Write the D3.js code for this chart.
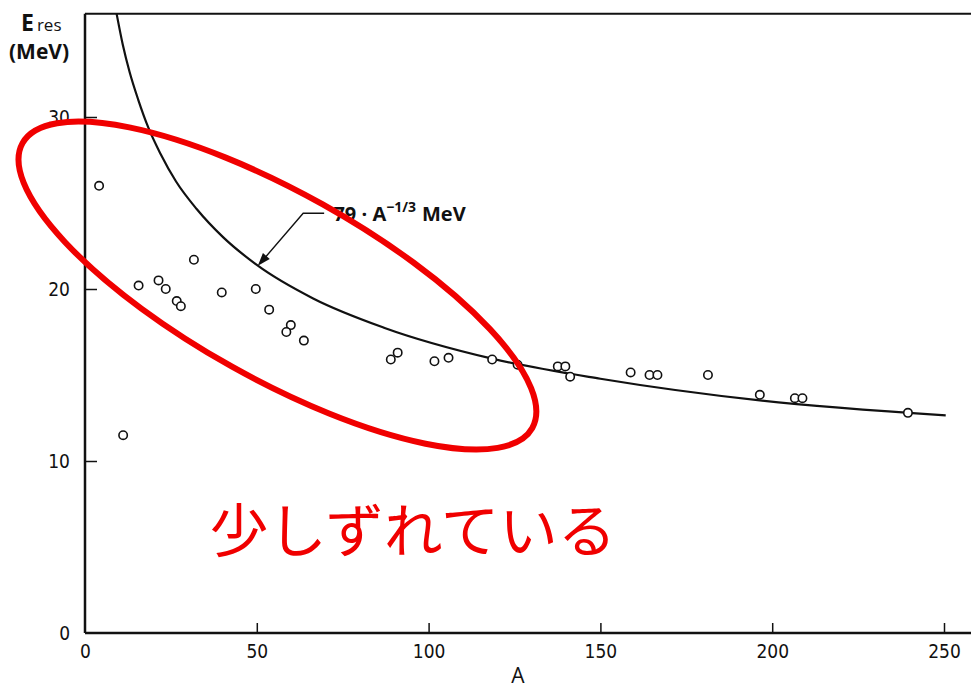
<!DOCTYPE html>
<html><head><meta charset="utf-8">
<script src="https://cdn.jsdelivr.net/npm/d3@7"></script>
<style>
body{margin:0;background:#fff;}
svg{display:block;}
.tick text{font-family:"Liberation Sans Narrow","DejaVu Sans Condensed","Liberation Sans",sans-serif;font-size:19px;fill:#111;}
</style></head>
<body>
<svg id="c" width="971" height="685"></svg>
<script>
// Measured resonance energies (A, E_res in MeV)
const massNumbers = [4.1, 11.1, 15.6, 21.4, 23.5, 26.7, 27.9, 31.7, 39.8, 49.7, 53.6, 59.9, 58.6, 63.7,
  89.0, 91.0, 101.7, 105.8, 118.5, 125.9, 137.6, 139.8, 141.2, 158.8, 164.3, 166.6, 181.3, 196.4, 206.6, 208.8, 239.5];
const energies = [26.0, 11.5, 20.2, 20.5, 20.0, 19.3, 19.0, 21.7, 19.8, 20.0, 18.8, 17.9, 17.5, 17.0,
  15.9, 16.3, 15.8, 16.0, 15.9, 15.6, 15.5, 15.5, 14.9, 15.15, 15.0, 15.0, 15.0, 13.85, 13.65, 13.65, 12.8];
// Drawn curve "79 · A^-1/3 MeV"
const curveA = [9.2, 11, 13, 15.5, 18.5, 22, 26.5, 32.5, 40.25, 50.0, 66.4, 87.0, 118.5, 150, 196.4, 250.5];
const curveE = [36.0, 34.2, 32.6, 31.0, 29.35, 27.85, 26.25, 24.65, 23.0, 21.4, 19.45, 17.75, 15.95, 14.78, 13.52, 12.65];
const xTicks = [0, 50, 100, 150, 200, 250];
const yTicks = [0, 10, 20, 30];
const noteText = "少しずれている";

const svg = d3.select("#c");
const x = d3.scaleLinear().domain([0, 250]).range([85, 944]);
const y = d3.scaleLinear().domain([0, 30]).range([633, 117]);
const yTop = y(36.0), xRight = 971;

svg.append("defs").append("clipPath").attr("id","clip")
  .append("rect").attr("x", x(0)).attr("y", yTop).attr("width", xRight - x(0)).attr("height", y(0) - yTop);

// frame lines
const g = svg.append("g");
g.append("line").attr("x1", x(0)).attr("x2", xRight).attr("y1", yTop).attr("y2", yTop).attr("stroke","#111").attr("stroke-width",2);
g.append("line").attr("x1", x(0)).attr("x2", xRight).attr("y1", y(0)).attr("y2", y(0)).attr("stroke","#111").attr("stroke-width",2.5);
g.append("line").attr("x1", x(0)).attr("x2", x(0)).attr("y1", yTop).attr("y2", y(0)).attr("stroke","#111").attr("stroke-width",2.5);

// axes
const xa = svg.append("g").attr("transform", `translate(0,${y(0)})`)
  .call(d3.axisBottom(x).tickValues(xTicks).tickSizeInner(-10).tickSizeOuter(0).tickPadding(12).tickFormat(d3.format("d")));
xa.select(".domain").remove();
xa.selectAll(".tick line").attr("stroke","#111").attr("stroke-width",1.5);
xa.selectAll(".tick").filter(d => d === 0).select("line").remove();

const ya = svg.append("g").attr("transform", `translate(${x(0)},0)`)
  .call(d3.axisLeft(y).tickValues(yTicks).tickSizeInner(-12).tickSizeOuter(0).tickPadding(15).tickFormat(d3.format("d")));
ya.select(".domain").remove();
ya.selectAll(".tick line").attr("stroke","#111").attr("stroke-width",1.5);
ya.selectAll(".tick").filter(d => d === 0).select("line").remove();

// axis titles
const tE = svg.append("text").attr("x", 21).attr("y", 31).attr("font-family","Open Sans, DejaVu Sans, sans-serif").attr("fill","#111");
tE.append("tspan").attr("font-size", 23).attr("font-weight", "bold").text("E");
tE.append("tspan").attr("font-size", 17).attr("dx", 3).text("res");
svg.append("text").attr("x", 9).attr("y", 59).attr("font-family","Open Sans, DejaVu Sans, sans-serif")
  .attr("font-size", 21).attr("font-weight","bold").attr("fill","#111").text("(MeV)");
svg.append("text").attr("x", x(126)).attr("y", 683).attr("text-anchor","middle").attr("font-family","Open Sans, DejaVu Sans, sans-serif")
  .attr("font-size", 21).attr("fill","#111").text("A");

// curve
const curvePts = curveA.map((a, i) => [a, curveE[i]]);
svg.append("path").datum(curvePts).attr("clip-path","url(#clip)")
  .attr("d", d3.line().x(d => x(d[0])).y(d => y(d[1])).curve(d3.curveMonotoneX))
  .attr("fill","none").attr("stroke","#111").attr("stroke-width",2.2);

// points
const pts = massNumbers.map((a, i) => [a, energies[i]]);
svg.append("g").selectAll("circle").data(pts).join("circle")
  .attr("cx", d => x(d[0])).attr("cy", d => y(d[1])).attr("r", 4.2)
  .attr("fill","#fff").attr("stroke","#111").attr("stroke-width",1.6);

// curve label with arrow
const lx = x(72.3), ly = y(24.4);
svg.append("path").attr("d", `M${x(69.6)},${ly} L${x(63.5)},${ly} L${x(51)},${y(21.5)}`)
  .attr("fill","none").attr("stroke","#111").attr("stroke-width",1.4);
{
  const tipX = x(50.3), tipY = y(21.35);
  const ang = Math.atan2(tipY - ly, tipX - x(63.5));
  const L = 13, W = 4.5;
  const bx = tipX - L*Math.cos(ang), by = tipY - L*Math.sin(ang);
  const px = -Math.sin(ang)*W, py = Math.cos(ang)*W;
  svg.append("path").attr("d", `M${tipX},${tipY} L${bx+px},${by+py} L${bx-px},${by-py} Z`).attr("fill","#111");
}
const lab = svg.append("text").attr("x", lx).attr("y", ly + 8).attr("font-family","Open Sans, DejaVu Sans, sans-serif")
  .attr("font-size", 20).attr("font-weight","bold").attr("fill","#111");
lab.append("tspan").text("79 · A");
lab.append("tspan").attr("font-size", 14).attr("dy", -9).text("−1/3");
lab.append("tspan").attr("dy", 9).attr("dx", 6).text("MeV");

// red annotation
svg.append("ellipse").attr("cx", x(56.0)).attr("cy", y(20.2)).attr("rx", 292).attr("ry", 93)
  .attr("transform", `rotate(29.2 ${x(56.0)} ${y(20.2)})`)
  .attr("fill","none").attr("stroke","#f00000").attr("stroke-width",6);
svg.append("text").attr("x", 413).attr("y", 552).attr("text-anchor","middle")
  .attr("font-family","Noto Sans CJK JP, sans-serif").attr("font-size", 58.5).attr("fill","#f00000").text(noteText);
</script>
</body></html>
